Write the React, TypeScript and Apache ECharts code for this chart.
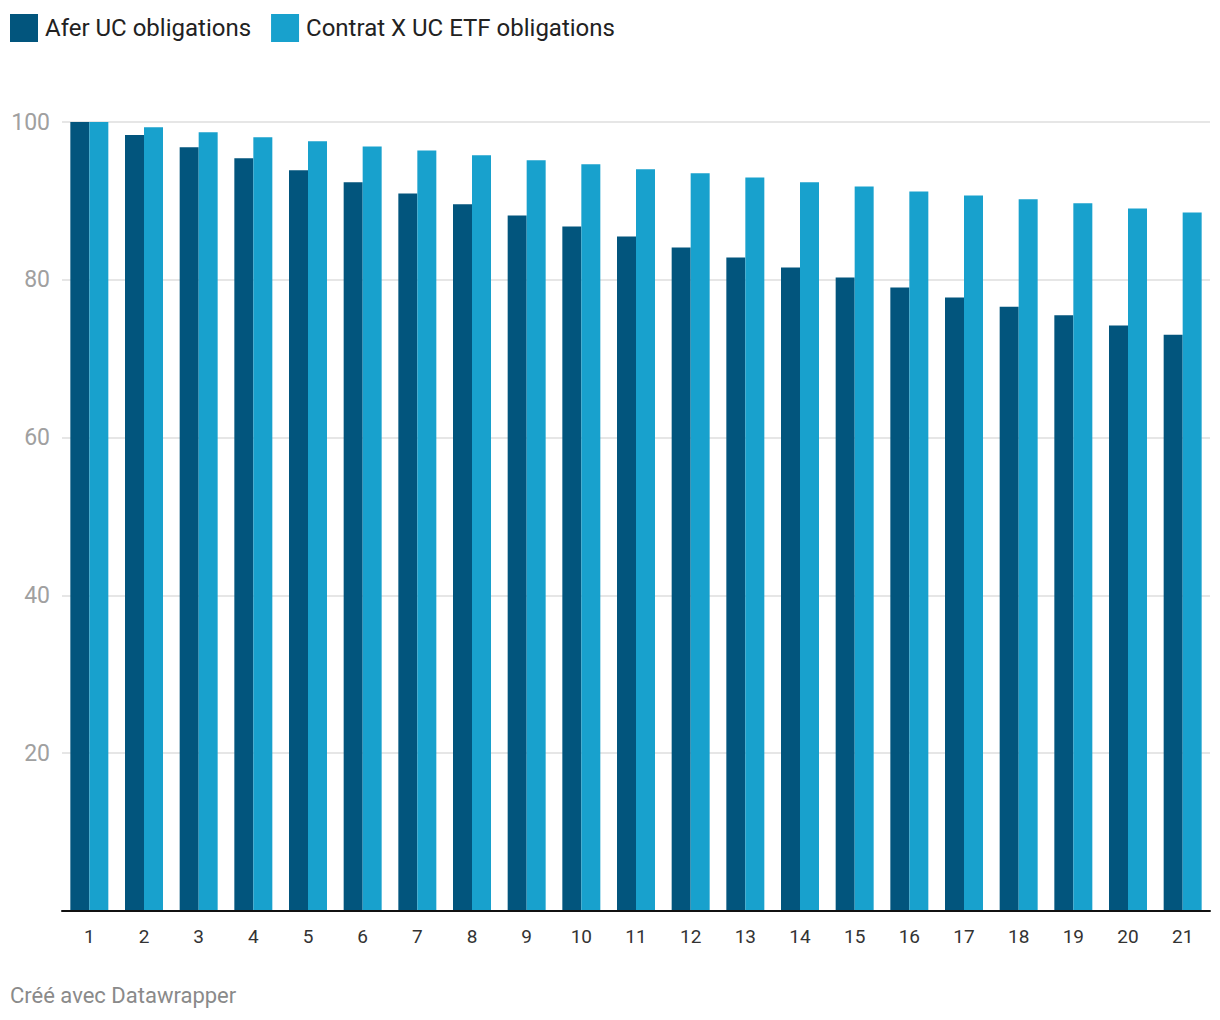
import React, { useEffect, useRef } from "react";
import * as echarts from "echarts";

const categories = ["1","2","3","4","5","6","7","8","9","10","11","12","13","14","15","16","17","18","19","20","21"];
const seriesNames = ["Afer UC obligations", "Contrat X UC ETF obligations"];
const aferValues = [100, 98.35, 96.8, 95.4, 93.9, 92.35, 90.95, 89.56, 88.16, 86.77, 85.5, 84.1, 82.83, 81.56, 80.3, 79.02, 77.75, 76.6, 75.5, 74.2, 73.05];
const contratValues = [100, 99.33, 98.7, 98.06, 97.55, 96.9, 96.4, 95.77, 95.14, 94.63, 94.0, 93.49, 92.98, 92.35, 91.84, 91.2, 90.7, 90.2, 89.7, 89.05, 88.54];
const footerText = "Créé avec Datawrapper";

export default function App() {
  const ref = useRef<HTMLDivElement>(null);
  useEffect(() => {
    document.body.style.margin = "0";
    const chart = echarts.init(ref.current!, null, { renderer: "svg" });
    const font = "Roboto, 'Noto Sans', sans-serif";
    chart.setOption({
      animation: false,
      backgroundColor: "#ffffff",
      textStyle: { fontFamily: font },
      legend: {
        left: 10,
        top: 14,
        padding: 0,
        icon: "rect",
        itemWidth: 28,
        itemHeight: 28,
        itemGap: 20,
        textStyle: { fontSize: 24, color: "#222222", fontFamily: font, padding: [0, 0, 0, 2] },
        data: seriesNames,
      },
      grid: { left: 62, right: 10, top: 122, bottom: 109, containLabel: false },
      xAxis: {
        type: "category",
        data: categories,
        axisLine: { show: true, lineStyle: { color: "#111111", width: 2 } },
        axisTick: { show: false },
        axisLabel: { color: "#333333", fontSize: 19, margin: 16, fontFamily: font },
        z: 10,
      },
      yAxis: {
        type: "value",
        min: 0,
        max: 100,
        interval: 20,
        axisLine: { show: false },
        axisTick: { show: false },
        axisLabel: {
          color: "#a0a0a0",
          fontSize: 23,
          margin: 12,
          fontFamily: font,
          formatter: (v: number) => (v === 0 ? "" : String(v)),
        },
        splitLine: { lineStyle: { color: "#e6e6e6", width: 2 } },
      },
      series: [
        {
          name: seriesNames[0],
          type: "bar",
          data: aferValues,
          itemStyle: { color: "#02557d" },
          barGap: "0%",
          barCategoryGap: "30.5%",
        },
        {
          name: seriesNames[1],
          type: "bar",
          data: contratValues,
          itemStyle: { color: "#18a1cd" },
          barGap: "0%",
          barCategoryGap: "30.5%",
        },
      ],
      graphic: [
        {
          type: "text",
          left: 10,
          top: 984,
          style: { text: footerText, fontSize: 22, fill: "#8a8a8a", fontFamily: font },
        },
      ],
    });
    return () => chart.dispose();
  }, []);
  return <div ref={ref} style={{ width: 1220, height: 1020 }} />;
}
